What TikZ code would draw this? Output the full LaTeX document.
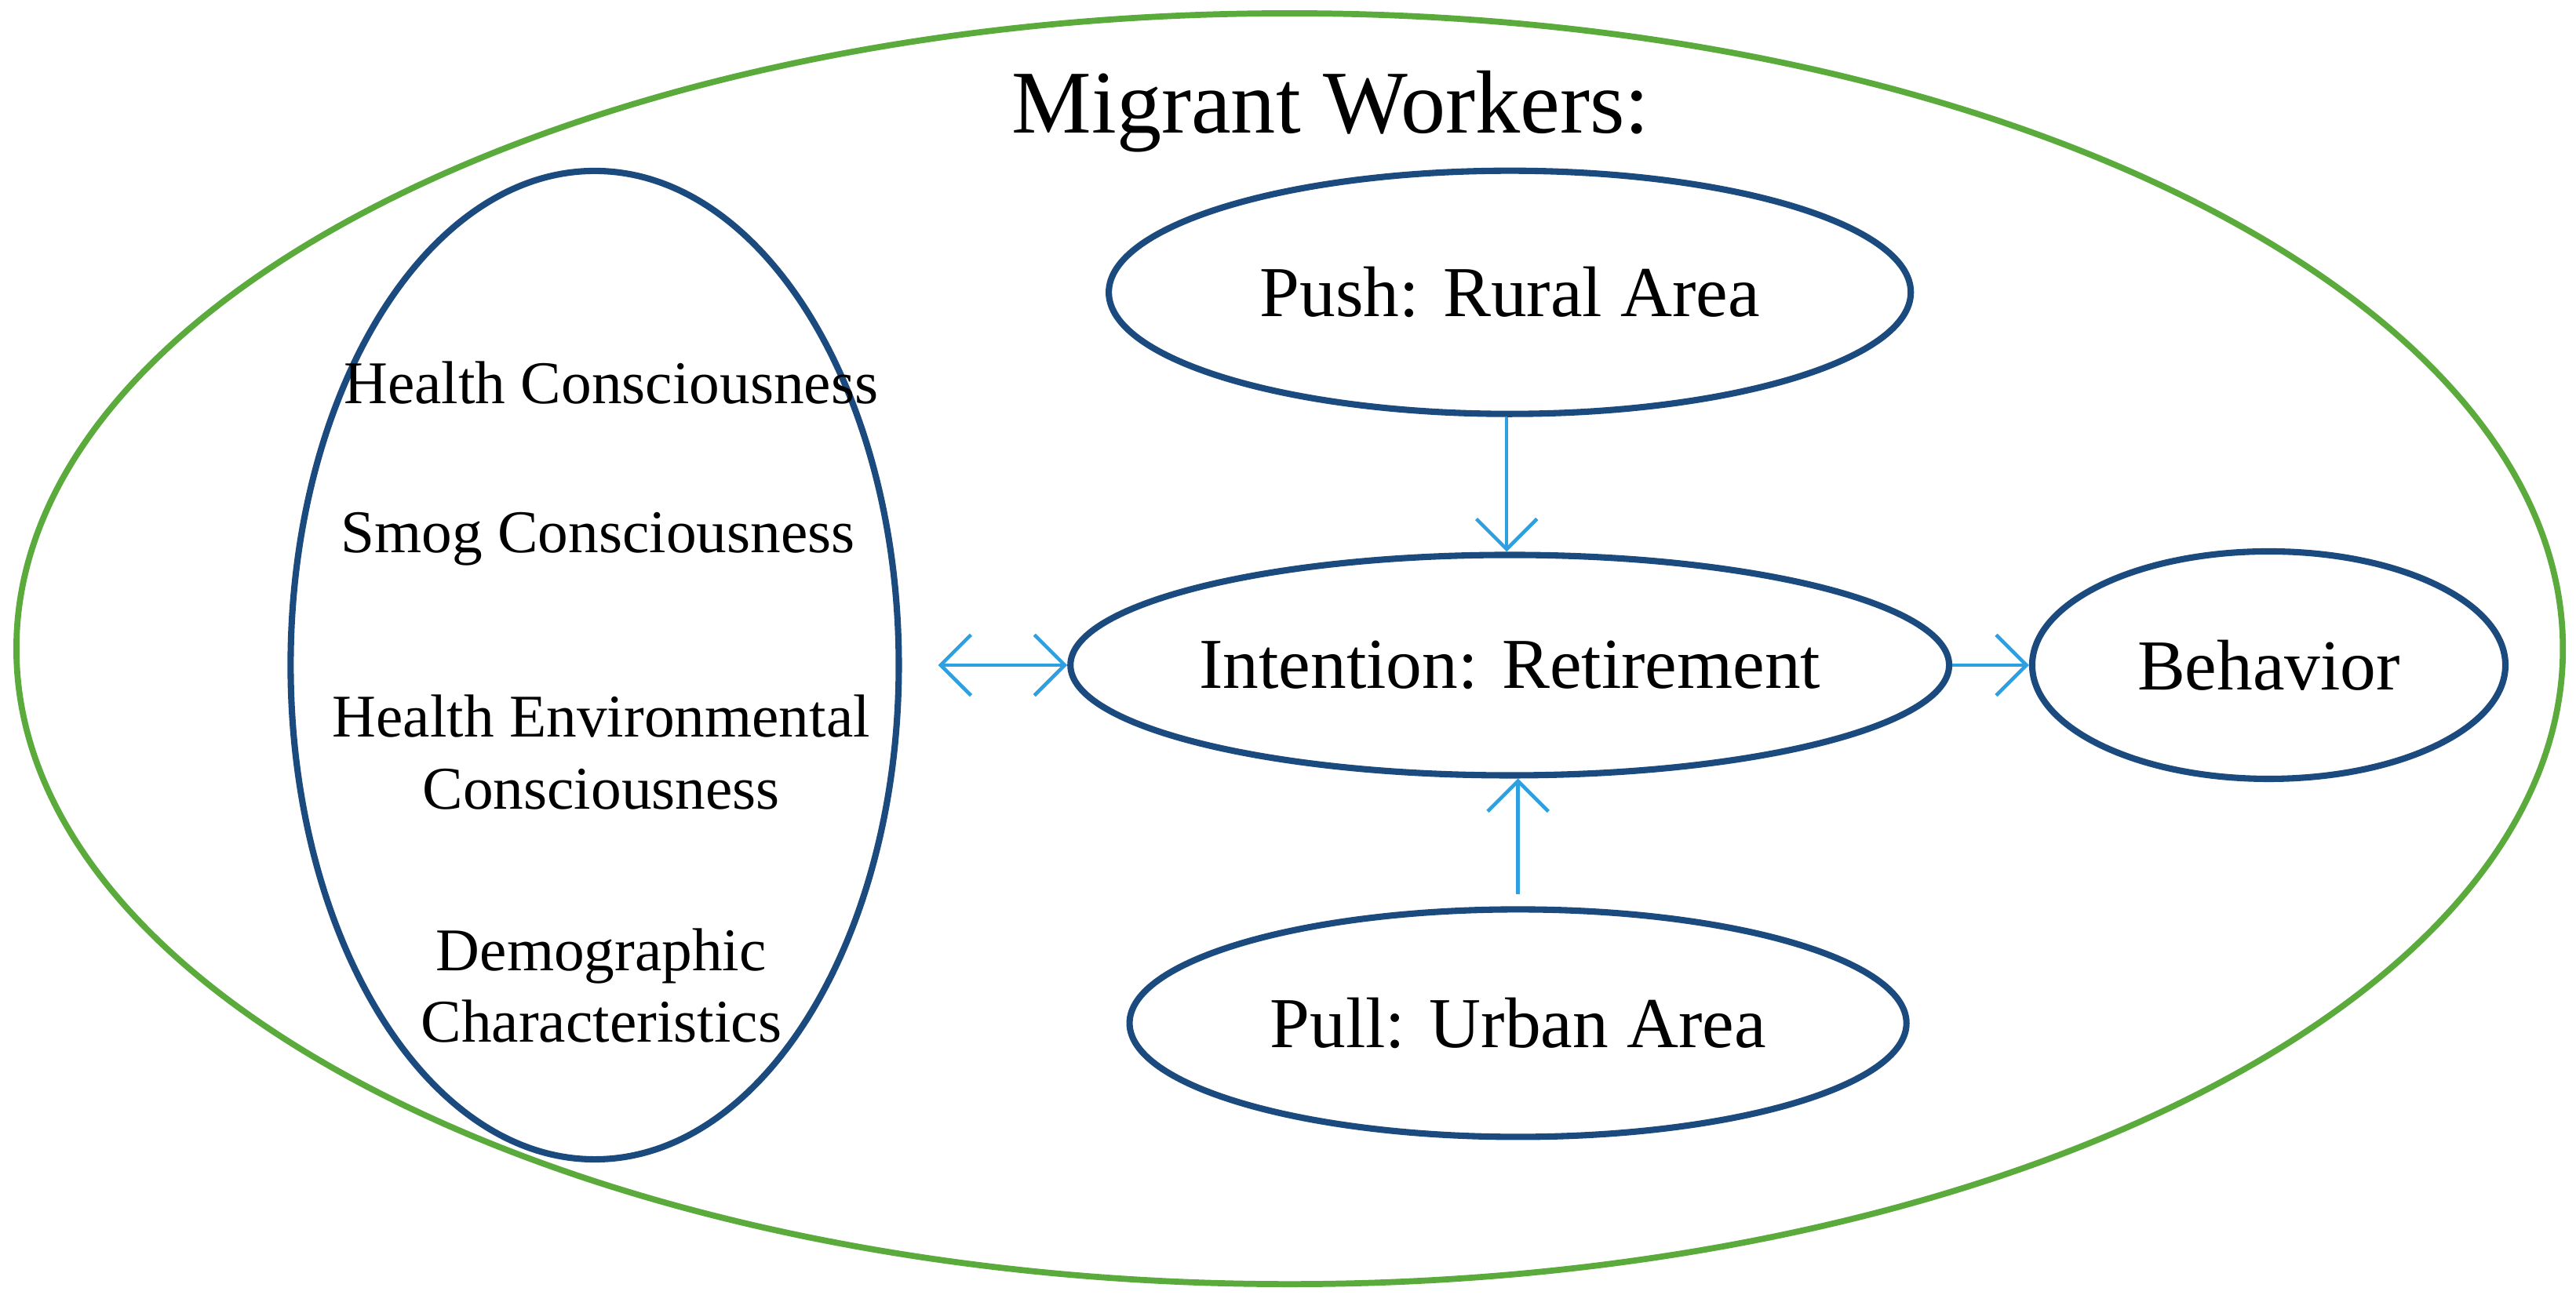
\documentclass[tikz,border=0pt]{standalone}
\usepackage{fontspec}
\setmainfont{Liberation Serif}
\usetikzlibrary{shapes.geometric,arrows.meta}
\definecolor{og}{HTML}{5BAA3C}
\definecolor{nb}{HTML}{1A4A7E}
\definecolor{ab}{HTML}{2E9FE0}
\begin{document}
\begin{tikzpicture}[x=0.02094cm,y=-0.02094cm,
  ell/.style={ellipse,draw=nb,line width=2.3pt,inner sep=0pt,font=\fontsize{26}{30}\selectfont},
  arr/.style={draw=ab,line width=1.3pt,-{Straight Barb[length=11pt,width=22pt]}},
  darr/.style={draw=ab,line width=1.3pt,{Straight Barb[length=11pt,width=22pt]}-{Straight Barb[length=11pt,width=22pt]}},
  lt/.style={font=\fontsize{22}{26}\selectfont,align=center}]
\useasboundingbox (0,0) rectangle (1568,788.5);
\node[ellipse,draw=og,line width=2.2pt,minimum width=32.45cm,minimum height=16.2cm,inner sep=0pt] (outer) at (785,395) {};
\node[font=\fontsize{32.5}{36}\selectfont] (title) at (810,68) {Migrant Workers:};
\node[ell,minimum width=7.75cm,minimum height=12.6cm] (left) at (362,405) {};
\node[lt] (t1) at (372,233) {Health Consciousness};
\node[lt] (t2) at (364,328) {Smog Consciousness};
\node[lt] (t3) at (366,458) {Health Environmental\\Consciousness};
\node[lt] (t4) at (366,600) {Demographic\\Characteristics};
\node[ell,minimum width=10.22cm,minimum height=3.1cm] (push) at (919,178) {Push: Rural Area};
\node[ell,minimum width=10.22cm,minimum height=2.81cm] (int) at (919,405) {Intention: Retirement};
\node[ell,minimum width=9.9cm,minimum height=2.9cm] (pull) at (924,623) {Pull: Urban Area};
\node[ell,minimum width=6.03cm,minimum height=2.9cm] (beh) at (1381,405) {Behavior};
\draw[arr] ([xshift=-0.04cm]push.south) coordinate (a1) -- (int.north -| a1);
\draw[arr] ([yshift=0.15cm]pull.north) coordinate (a2) -- (int.south -| a2);
\draw[darr,shorten <=0.46cm] (left.east |- int.west) -- (int.west);
\draw[arr] (int.east) -- (beh.west);
\end{tikzpicture}
\end{document}
